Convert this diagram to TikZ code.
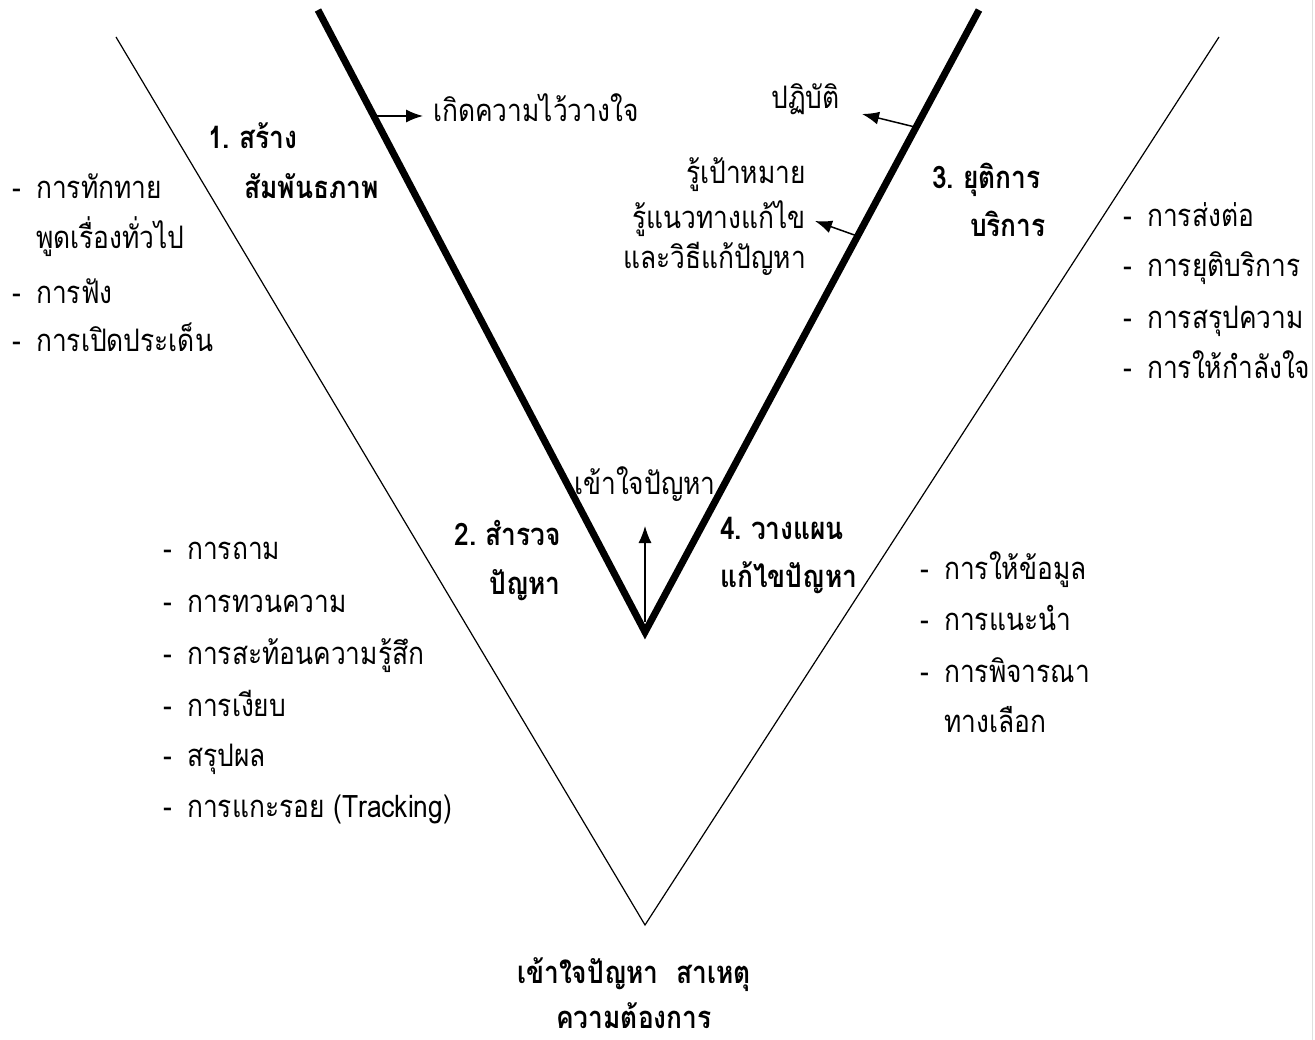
\documentclass[tikz,border=0pt]{standalone}
\usepackage{fontspec}
\newfontfamily\thaifont[Script=Thai, FakeStretch=0.85]{Loma}
\usetikzlibrary{arrows.meta}
\begin{document}
\begin{tikzpicture}[x=1pt,y=-1pt,
  vthin/.style={line width=1.2pt},
  vthick/.style={line width=7pt, line join=miter},
  arr/.style={-{Latex[length=17pt,width=13pt]}, line width=1.5pt},
  txt/.style={font=\thaifont\fontsize{31}{36}\selectfont, inner sep=0pt, anchor=base west},
  lbl/.style={font=\thaifont\bfseries\fontsize{31}{36}\selectfont, inner sep=0pt, anchor=base west},
  lblr/.style={lbl, anchor=base east},
  txtr/.style={txt, anchor=base east},
  txtc/.style={txt, anchor=base},
  lblc/.style={lbl, anchor=base}]
\fill[white] (0,0) rectangle (1315,1040);
\useasboundingbox (0,0) rectangle (1315,1040);
\draw[gray!25, line width=1pt] (1312,0) -- (1312,1040);
% V shapes
\coordinate (oL) at (116,37);
\coordinate (oB) at (645,925);
\coordinate (oR) at (1219,37);
\coordinate (iL) at (318,10);
\coordinate (iB) at (645,632);
\coordinate (iR) at (979,10);
\draw[vthin] (oL) -- (oB) -- (oR);
\draw[vthick] (iL) -- (iB) -- (iR);
% arrows
\coordinate (a1s) at (377,116);
\coordinate (a1e) at (423,116);
\coordinate (a2s) at (919,128);
\coordinate (a2e) at (862,114);
\coordinate (a3s) at (860,237);
\coordinate (a3e) at (815,221);
\coordinate (a4s) at (645,622);
\coordinate (a4e) at (645,526);
\draw[arr] (a1s) -- (a1e);
\draw[arr] (a2s) -- (a2e);
\draw[arr] (a3s) -- (a3e);
\draw[arr, line width=1.2pt] (a4s) -- (a4e);
% arrow texts
\node[txt] (trust) at (433,122) {เกิดความไว้วางใจ};
\node[txtr] (practice) at (840,109) {ปฏิบัติ};
\node[txtr] (goal1) at (806,184) {รู้เป้าหมาย};
\node[txtr] (goal2) at (806,229) {รู้แนวทางแก้ไข};
\node[txtr] (goal3) at (806,269) {และวิธีแก้ปัญหา};
\node[txtc] (understand) at (645,494) {เข้าใจปัญหา};
% stage labels
\node[lbl] (s1a) at (208,149) {1.\ สร้าง};
\node[lbl] (s1b) at (244,199) {สัมพันธภาพ};
\node[lblr] (s2a) at (561,545) {2.\ สำรวจ};
\node[lblr] (s2b) at (561,594) {ปัญหา};
\node[lbl] (s3a) at (932,189) {3.\ ยุติการ};
\node[lblr] (s3b) at (1046,237) {บริการ};
\node[lbl] (s4a) at (720,539) {4.\ วางแผน};
\node[lbl] (s4b) at (720,587) {แก้ไขปัญหา};
\node[lblc] (b1) at (634,983) {เข้าใจปัญหา\ \ สาเหตุ};
\node[lblc] (b2) at (634,1028) {ความต้องการ};
% left list
\node[txt] (l1) at (12,199) {\makebox[24pt][l]{-}การทักทาย};
\node[txt] (l2) at (12,249) {\hspace*{24pt}พูดเรื่องทั่วไป};
\node[txt] (l3) at (12,304) {\makebox[24pt][l]{-}การฟัง};
\node[txt] (l4) at (12,352) {\makebox[24pt][l]{-}การเปิดประเด็น};
% middle-left list
\node[txt] (m1) at (163,559) {\makebox[24pt][l]{-}การถาม};
\node[txt] (m2) at (163,612) {\makebox[24pt][l]{-}การทวนความ};
\node[txt] (m3) at (163,664) {\makebox[24pt][l]{-}การสะท้อนความรู้สึก};
\node[txt] (m4) at (163,716) {\makebox[24pt][l]{-}การเงียบ};
\node[txt] (m5) at (163,766) {\makebox[24pt][l]{-}สรุปผล};
\node[txt] (m6) at (163,817) {\makebox[24pt][l]{-}การแกะรอย (Tracking)};
% right-middle list
\node[txt] (r1) at (920,579) {\makebox[24pt][l]{-}การให้ข้อมูล};
\node[txt] (r2) at (920,630) {\makebox[24pt][l]{-}การแนะนำ};
\node[txt] (r3) at (920,682) {\makebox[24pt][l]{-}การพิจารณา};
\node[txt] (r4) at (920,732) {\hspace*{24pt}ทางเลือก};
% far-right list
\node[txt] (f1) at (1123,227) {\makebox[24pt][l]{-}การส่งต่อ};
\node[txt] (f2) at (1123,277) {\makebox[24pt][l]{-}การยุติบริการ};
\node[txt] (f3) at (1123,329) {\makebox[24pt][l]{-}การสรุปความ};
\node[txt] (f4) at (1123,379) {\makebox[24pt][l]{-}การให้กำลังใจ};
\end{tikzpicture}
\end{document}
